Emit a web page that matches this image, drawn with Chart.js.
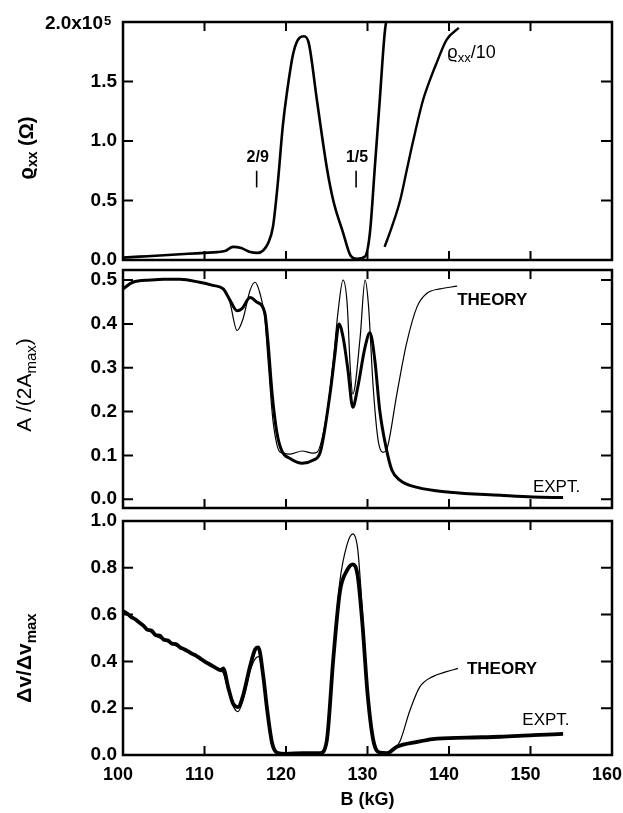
<!DOCTYPE html>
<html>
<head>
<meta charset="utf-8">
<script src="https://cdn.jsdelivr.net/npm/chart.js@4.4.1/dist/chart.umd.min.js"></script>
<style>
  html, body { margin: 0; padding: 0; background: #fff; }
  #wrap { position: relative; width: 623px; height: 813px; }
  #wrap canvas { position: absolute; left: 0; top: 0; }
</style>
</head>
<body>
<div id="wrap">
  <canvas id="c1" width="623" height="813"></canvas>
  <canvas id="c2" width="623" height="813"></canvas>
  <canvas id="c3" width="623" height="813"></canvas>
</div>
<script>
// --- data (B in kG) ---

// top panel: rho_xx (units of 1e5 Ohm)
const rhoB = [100, 102, 104, 106, 108, 110, 111.5, 112.5, 113.5, 114.5, 115.5, 116.5, 117.2, 117.8, 118.4, 119.0, 119.6, 120.1, 120.9, 121.7, 122.2, 122.8, 123.8, 125.0, 125.8, 127.0, 127.9, 128.7, 129.7, 130.3, 130.9, 131.5, 132.1, 132.5];
const rhoV = [0.02, 0.028, 0.036, 0.044, 0.052, 0.06, 0.066, 0.075, 0.11, 0.10, 0.07, 0.06, 0.08, 0.14, 0.28, 0.65, 1.12, 1.40, 1.74, 1.87, 1.88, 1.82, 1.34, 0.78, 0.50, 0.23, 0.04, 0.01, 0.03, 0.23, 0.78, 1.34, 1.90, 2.10];
// rho_xx / 10
const rho10B = [132.1, 133.0, 134.0, 134.8, 135.6, 136.8, 137.7, 138.5, 139.7, 141.2];
const rho10V = [0.11, 0.28, 0.50, 0.75, 1.00, 1.34, 1.52, 1.66, 1.85, 1.95];

// middle panel: A/(2Amax)
const ampExpB = [100, 101.2, 103.3, 105, 107, 109.4, 111, 112.3, 113.1, 114, 114.6, 115.6, 116.4, 117.4, 117.8, 118.3, 118.9, 119.5, 120.5, 122, 123.3, 124.2, 125.4, 126, 126.5, 127, 127.6, 128.2, 128.8, 129.7, 130.3, 130.9, 131.5, 132.3, 133, 134, 136.1, 140.1, 146.3, 150.3, 154];
const ampExpV = [0.48, 0.495, 0.50, 0.502, 0.502, 0.495, 0.488, 0.48, 0.455, 0.43, 0.435, 0.46, 0.45, 0.425, 0.356, 0.24, 0.15, 0.11, 0.093, 0.082, 0.089, 0.107, 0.24, 0.33, 0.40, 0.37, 0.295, 0.21, 0.255, 0.347, 0.38, 0.317, 0.203, 0.116, 0.066, 0.043, 0.027, 0.016, 0.009, 0.005, 0.004];
const ampThB = [100, 101.2, 103.3, 105, 107, 109.4, 111, 112.3, 113.1, 114, 114.7, 115.6, 116.2, 116.8, 117.4, 117.8, 118.4, 119.3, 120.5, 122, 123.3, 123.8, 125, 125.8, 126.4, 127, 127.5, 127.9, 128.2, 129.1, 129.7, 130.1, 130.7, 131.3, 131.9, 132.4, 133.6, 134.8, 136.1, 137.3, 138.9, 141];
const ampThV = [0.48, 0.495, 0.50, 0.502, 0.502, 0.495, 0.488, 0.48, 0.45, 0.385, 0.41, 0.477, 0.495, 0.47, 0.413, 0.317, 0.18, 0.107, 0.103, 0.11, 0.105, 0.107, 0.195, 0.317, 0.43, 0.50, 0.447, 0.295, 0.24, 0.37, 0.50, 0.447, 0.255, 0.135, 0.107, 0.116, 0.24, 0.356, 0.44, 0.47, 0.48, 0.486];

// bottom panel: dv/dvmax
const velExpB = [100, 100.5, 101, 101.5, 102, 102.5, 103, 103.5, 104, 104.5, 105, 105.5, 106, 106.5, 107, 107.5, 108, 108.5, 109, 109.5, 110, 110.5, 111, 111.5, 112, 112.3, 112.9, 113.5, 114.1, 114.7, 115.6, 116.2, 116.6, 117.2, 117.7, 118.3, 118.9, 120, 122, 124.2, 125, 125.8, 126.6, 127.5, 128.2, 128.8, 129.4, 130, 130.7, 131.5, 132.4, 133.6, 136.1, 138, 142.2, 146.3, 150.3, 154];
const velExpV = [0.615, 0.605, 0.59, 0.58, 0.566, 0.553, 0.535, 0.532, 0.512, 0.51, 0.493, 0.49, 0.476, 0.474, 0.46, 0.452, 0.443, 0.432, 0.424, 0.412, 0.40, 0.39, 0.38, 0.37, 0.362, 0.37, 0.29, 0.22, 0.205, 0.25, 0.38, 0.45, 0.46, 0.34, 0.19, 0.05, 0.01, 0.005, 0.008, 0.008, 0.06, 0.41, 0.695, 0.79, 0.815, 0.765, 0.55, 0.265, 0.065, 0.01, 0.008, 0.035, 0.056, 0.068, 0.074, 0.078, 0.085, 0.09];
const velThB = [100, 102, 104, 106, 108, 110, 111.5, 112.3, 112.9, 113.5, 114.1, 114.7, 115.6, 116.2, 116.6, 117.2, 117.7, 118.3, 118.9, 120, 122, 124.2, 125, 125.8, 126.6, 127.5, 128.2, 128.8, 129.4, 130, 130.7, 131.5, 132.4, 133.2, 134.0, 135.2, 136.4, 138, 139.7, 141.1];
const velThV = [0.61, 0.565, 0.51, 0.475, 0.44, 0.40, 0.37, 0.35, 0.28, 0.21, 0.185, 0.23, 0.36, 0.41, 0.42, 0.33, 0.18, 0.045, 0.01, 0.005, 0.006, 0.006, 0.06, 0.42, 0.74, 0.90, 0.945, 0.88, 0.60, 0.28, 0.065, 0.01, 0.008, 0.02, 0.06, 0.19, 0.29, 0.335, 0.356, 0.37];

const bTicks = [100, 110, 120, 130, 140, 150, 160];

const FONT = '"Liberation Sans", Arial, Helvetica, "DejaVu Sans", sans-serif';

const pts = (xs, ys) => xs.map((x, i) => ({ x, y: ys[i] }));

const line = (xs, ys, w) => ({
    data: pts(xs, ys),
    borderColor: '#000',
    borderWidth: w,
    pointRadius: 0,
    fill: false,
    cubicInterpolationMode: 'monotone',
});

// text made of runs, some of them subscript/superscript
function drawRuns(ctx, parts, x, y, size, weight, align) {
    const fontOf = p => (p.sub || p.sup ? weight + ' ' + Math.round(size * 0.72) + 'px ' + FONT : weight + ' ' + size + 'px ' + FONT);
    let total = 0;
    parts.forEach(p => { ctx.font = fontOf(p); total += ctx.measureText(p.t).width; });
    let cx = align === 'center' ? x - total / 2 : align === 'right' ? x - total : x;
    ctx.textBaseline = 'middle';
    ctx.textAlign = 'left';
    parts.forEach(p => {
        ctx.font = fontOf(p);
        const dy = p.sub ? size * 0.32 : p.sup ? -size * 0.38 : 0;
        ctx.fillText(p.t, cx, y + dy);
        cx += ctx.measureText(p.t).width;
    });
}

function frame(chart, yInner) {
    const { ctx, chartArea: a, scales: { x, y } } = chart;
    ctx.save();
    ctx.strokeStyle = '#000';
    ctx.lineWidth = 2.5;
    ctx.strokeRect(a.left, a.top, a.right - a.left, a.bottom - a.top);
    ctx.lineWidth = 2;
    ctx.beginPath();
    [110, 120, 130, 140, 150].forEach(v => {
        const px = x.getPixelForValue(v);
        ctx.moveTo(px, a.top); ctx.lineTo(px, a.top + 9);
        ctx.moveTo(px, a.bottom); ctx.lineTo(px, a.bottom - 9);
    });
    yInner.forEach(v => {
        const py = y.getPixelForValue(v);
        ctx.moveTo(a.left, py); ctx.lineTo(a.left + 10, py);
        ctx.moveTo(a.right, py); ctx.lineTo(a.right - 11, py);
    });
    ctx.stroke();
    ctx.restore();
}

function yTitle(ctx, parts, cx, cy, size, weight) {
    ctx.save();
    ctx.fillStyle = '#000';
    ctx.translate(cx, cy);
    ctx.rotate(-Math.PI / 2);
    drawRuns(ctx, parts, 0, 0, size, weight, 'center');
    ctx.restore();
}

function makePanel(id, cfg) {
    const last = !!cfg.xAxis;
    return new Chart(document.getElementById(id), {
        type: 'line',
        data: { datasets: cfg.datasets },
        options: {
            responsive: false,
            animation: false,
            events: [],
            layout: { padding: { top: cfg.top, right: 11, left: 0, bottom: last ? 0 : 813 - cfg.bottom } },
            plugins: { legend: { display: false }, tooltip: { enabled: false } },
            scales: {
                x: {
                    type: 'linear',
                    min: 100, max: 160,
                    display: last,
                    grid: { display: false, drawTicks: false },
                    border: { display: false },
                    afterBuildTicks: s => { s.ticks = bTicks.map(v => ({ value: v })); },
                    afterFit: s => {
                        if (last) s.height = 813 - cfg.bottom;
                        s.paddingLeft = 0;
                        s.paddingRight = 0;
                    },
                    ticks: {
                        color: '#000', padding: 9, autoSkip: false, maxRotation: 0,
                        labelOffset: -5,
                        font: { family: FONT, size: 18, weight: 'bold' },
                    },
                    title: {
                        display: last, text: 'B (kG)', color: '#000',
                        font: { family: FONT, size: 18, weight: 'bold' },
                        padding: { top: 0, bottom: 2 },
                    },
                },
                y: {
                    min: cfg.yMin, max: cfg.yMax,
                    grid: { display: false, drawTicks: false },
                    border: { display: false },
                    afterBuildTicks: s => { s.ticks = cfg.yTicks.map(v => ({ value: v })); },
                    afterFit: s => { s.width = 123; s.paddingTop = 0; s.paddingBottom = 0; },
                    ticks: {
                        color: '#000', padding: 6,
                        font: { family: FONT, size: 19, weight: 'bold' },
                        callback: cfg.yLabel,
                    },
                },
            },
        },
        plugins: [{
            id: 'panelDeco',
            afterDraw: chart => {
                frame(chart, cfg.yInner);
                const ctx = chart.ctx;
                ctx.save();
                ctx.fillStyle = '#000';
                ctx.strokeStyle = '#000';
                cfg.deco(chart, ctx);
                ctx.restore();
            },
        }],
    });
}

// --- top: rho_xx ---
makePanel('c1', {
    top: 22, bottom: 260, yMin: 0, yMax: 2.0,
    yTicks: [0, 0.5, 1.0, 1.5, 2.0],
    yInner: [0.5, 1.0, 1.5],
    yLabel: v => (v === 2 ? '' : v.toFixed(1)),
    datasets: [line(rhoB, rhoV, 2.6), line(rho10B, rho10V, 2.4)],
    deco: (chart, ctx) => {
        const { x, y } = chart.scales;
        const top = y.getPixelForValue(2.0);
        drawRuns(ctx, [{ t: '2.0x10' }], 103, top + 1.5, 19, 'bold', 'right');
        drawRuns(ctx, [{ t: '5', sup: true }], 104, top + 6, 18, 'bold', 'left');
        // filling factor markers
        [[116.4, '2/9'], [128.6, '1/5']].forEach(([b, txt]) => {
            const px = x.getPixelForValue(b);
            drawRuns(ctx, [{ t: txt }], px + 1, y.getPixelForValue(0.86), 16, 'bold', 'center');
            ctx.lineWidth = 1.6;
            ctx.beginPath();
            ctx.moveTo(px, y.getPixelForValue(0.75));
            ctx.lineTo(px, y.getPixelForValue(0.61));
            ctx.stroke();
        });
        drawRuns(ctx, [{ t: 'ϱ' }, { t: 'xx', sub: true }, { t: '/10' }],
            x.getPixelForValue(139.8), y.getPixelForValue(1.74), 18, 'normal', 'left');
        yTitle(ctx, [{ t: 'ϱ' }, { t: 'xx', sub: true }, { t: ' (Ω)' }], 27, 148, 20, 'bold');
    },
});

// --- middle: A/(2Amax) ---
makePanel('c2', {
    top: 270, bottom: 508, yMin: -0.02, yMax: 0.523,
    yTicks: [0, 0.1, 0.2, 0.3, 0.4, 0.5],
    yInner: [0, 0.1, 0.2, 0.3, 0.4, 0.5],
    yLabel: v => v.toFixed(1),
    datasets: [line(ampThB, ampThV, 1.2), line(ampExpB, ampExpV, 3)],
    deco: (chart, ctx) => {
        const { x, y } = chart.scales;
        drawRuns(ctx, [{ t: 'THEORY' }], x.getPixelForValue(141.0), y.getPixelForValue(0.454), 17, 'bold', 'left');
        drawRuns(ctx, [{ t: 'EXPT.' }], x.getPixelForValue(150.3), y.getPixelForValue(0.027), 17, 'normal', 'left');
        yTitle(ctx, [{ t: 'A /(2A' }, { t: 'max', sub: true }, { t: ')' }], 25, 385, 21, 'normal');
    },
});

// --- bottom: dv/dvmax ---
makePanel('c3', {
    top: 521, bottom: 755, yMin: 0, yMax: 1.0, xAxis: true,
    yTicks: [0, 0.2, 0.4, 0.6, 0.8, 1.0],
    yInner: [0.2, 0.4, 0.6, 0.8],
    yLabel: v => v.toFixed(1),
    datasets: [line(velThB, velThV, 1.2), line(velExpB, velExpV, 3.8)],
    deco: (chart, ctx) => {
        const { x, y } = chart.scales;
        drawRuns(ctx, [{ t: 'THEORY' }], x.getPixelForValue(142.2), y.getPixelForValue(0.365), 17, 'bold', 'left');
        drawRuns(ctx, [{ t: 'EXPT.' }], x.getPixelForValue(149.0), y.getPixelForValue(0.15), 17, 'normal', 'left');
        yTitle(ctx, [{ t: 'Δv/Δv' }, { t: 'max', sub: true }], 25, 658, 21, 'bold');
    },
});
</script>
</body>
</html>
